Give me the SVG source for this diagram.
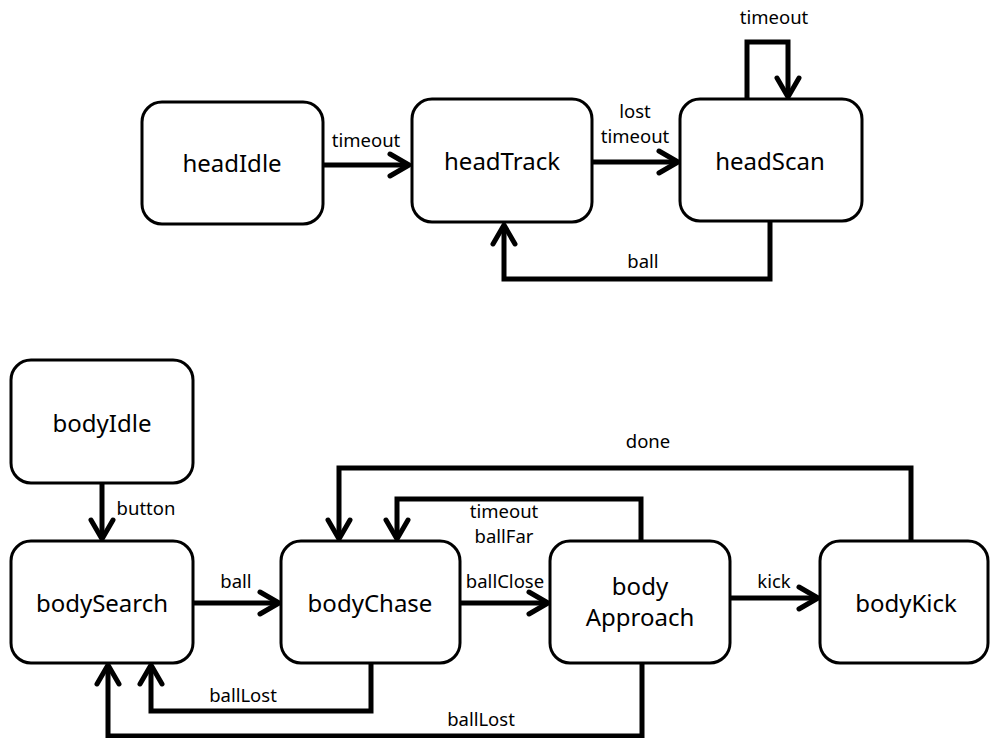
<svg xmlns="http://www.w3.org/2000/svg" width="990" height="738" viewBox="0 0 990 738">
<defs>
<style>
.node rect{fill:#fff;stroke:#000;stroke-width:3}
.node text{font-family:"Noto Sans","Liberation Sans",sans-serif;font-size:24px;fill:#000;text-anchor:middle}
.conn path{fill:none;stroke:#000;stroke-width:5;marker-end:url(#arr)}
.conn path.noarr{marker-end:none}
.lbl{font-family:"Noto Sans","Liberation Sans",sans-serif;font-size:18.5px;fill:#000;text-anchor:middle}
</style>
<marker id="arr" markerUnits="userSpaceOnUse" markerWidth="30" markerHeight="30" viewBox="-25 -15 30 30" refX="0" refY="0" orient="auto" overflow="visible">
<path d="M-19,-11 L0,0 L-19,11" fill="none" stroke="#000" stroke-width="5" stroke-linecap="round" stroke-linejoin="round"/>
</marker>
</defs>
<rect width="990" height="738" fill="#fff"/>
<g id="connectors" class="conn">
<path d="M323,165 H409"/>
<path d="M593,162 H678"/>
<path d="M747,99 V42 H788 V97"/>
<path d="M770,221 V279 H504 V225"/>
<path d="M102,483 V539"/>
<path d="M193,603 H279"/>
<path d="M460,603 H548"/>
<path d="M730,598 H818"/>
<path d="M911,541 V468 H339 V539"/>
<path d="M641,541 V499 H397 V539"/>
<path d="M371,663 V711 H151 V665"/>
<path d="M642,663 V736 H108 V665"/>
</g>
<g id="labels">
<text class="lbl" x="366" y="147">timeout</text>
<text class="lbl" x="635" y="118">lost</text>
<text class="lbl" x="635" y="143">timeout</text>
<text class="lbl" x="774" y="24">timeout</text>
<text class="lbl" x="643" y="268">ball</text>
<text class="lbl" x="146" y="515">button</text>
<text class="lbl" x="236" y="588">ball</text>
<text class="lbl" x="505" y="588">ballClose</text>
<text class="lbl" x="774" y="588">kick</text>
<text class="lbl" x="648" y="448">done</text>
<text class="lbl" x="504" y="518">timeout</text>
<text class="lbl" x="504" y="543">ballFar</text>
<text class="lbl" x="243" y="702">ballLost</text>
<text class="lbl" x="481" y="726">ballLost</text>
</g>
<g id="headIdle" class="node"><rect x="142" y="102" width="181" height="122" rx="20"/><text x="232" y="172">headIdle</text></g>
<g id="headTrack" class="node"><rect x="412" y="99" width="180" height="123" rx="20"/><text x="502" y="170">headTrack</text></g>
<g id="headScan" class="node"><rect x="680" y="99" width="182" height="122" rx="20"/><text x="770" y="170">headScan</text></g>
<g id="bodyIdle" class="node"><rect x="11" y="360" width="182" height="123" rx="20"/><text x="102" y="432">bodyIdle</text></g>
<g id="bodySearch" class="node"><rect x="11" y="541" width="182" height="122" rx="20"/><text x="102" y="612">bodySearch</text></g>
<g id="bodyChase" class="node"><rect x="281" y="541" width="179" height="122" rx="20"/><text x="370" y="612">bodyChase</text></g>
<g id="bodyApproach" class="node"><rect x="550" y="541" width="180" height="122" rx="20"/><text x="640" y="595">body</text><text x="640" y="626">Approach</text></g>
<g id="bodyKick" class="node"><rect x="820" y="541" width="168" height="122" rx="20"/><text x="906" y="612">bodyKick</text></g>
</svg>
